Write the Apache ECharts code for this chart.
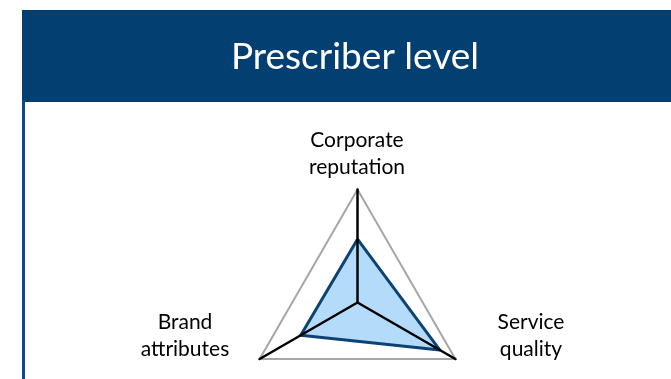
<!DOCTYPE html>
<html>
<head>
<meta charset="utf-8">
<script src="https://cdn.jsdelivr.net/npm/echarts@6/dist/echarts.min.js"></script>
<style>
  html, body { margin: 0; padding: 0; background: #fff; }
  #main { width: 671px; height: 379px; }
</style>
</head>
<body>
<div id="main"></div>
<script>
// 数据
var titleText = 'Prescriber level';
var indicators = ['Corporate\nreputation', 'Brand\nattributes', 'Service\nquality'];
var maxValue = 10;
var values = [5.6, 5.8, 8.4];

var myChart = echarts.init(document.getElementById('main'));

var option = {
    animation: false,
    graphic: [
        // 标题栏
        {type: 'rect', shape: {x: 22, y: 10, width: 649, height: 92}, style: {fill: '#033f70'}},
        {type: 'rect', shape: {x: 22, y: 100, width: 3, height: 279}, style: {fill: '#0a4a86'}},
        {type: 'text', x: 355, y: 57, style: {
            text: titleText, fill: '#fff', font: '37px Lato',
            textAlign: 'center', textVerticalAlign: 'middle'
        }},
        // 轴名称
        {type: 'text', x: 357, y: 127, style: {
            text: indicators[0], fill: '#000', font: '21px Lato', lineHeight: 27,
            textAlign: 'center', textVerticalAlign: 'top'
        }},
        {type: 'text', x: 185, y: 336, style: {
            text: indicators[1], fill: '#000', font: '21px Lato', lineHeight: 27,
            textAlign: 'center', textVerticalAlign: 'middle'
        }},
        {type: 'text', x: 531, y: 336, style: {
            text: indicators[2], fill: '#000', font: '21px Lato', lineHeight: 27,
            textAlign: 'center', textVerticalAlign: 'middle'
        }}
    ],
    radar: {
        center: [357.5, 302.5],
        radius: 113,
        shape: 'polygon',
        splitNumber: 1,
        z: 10,
        indicator: indicators.map(function (n) { return {name: n, max: maxValue}; }),
        axisName: {show: false},
        splitArea: {show: false},
        splitLine: {lineStyle: {color: '#a6a6a6', width: 2}},
        axisLine: {lineStyle: {color: '#000', width: 2.5}},
        axisTick: {show: false},
        axisLabel: {show: false}
    },
    series: [{
        // 填充区域
        type: 'radar',
        symbol: 'none',
        z: 1,
        lineStyle: {width: 0},
        areaStyle: {color: '#b4dbfa', opacity: 1},
        emphasis: {disabled: true},
        data: [{value: values}]
    }, {
        // 边线
        type: 'radar',
        symbol: 'none',
        z: 2,
        lineStyle: {width: 3, color: '#0d4275', type: 'solid'},
        emphasis: {disabled: true},
        data: [{value: values}]
    }]
};

myChart.setOption(option);
</script>
</body>
</html>
